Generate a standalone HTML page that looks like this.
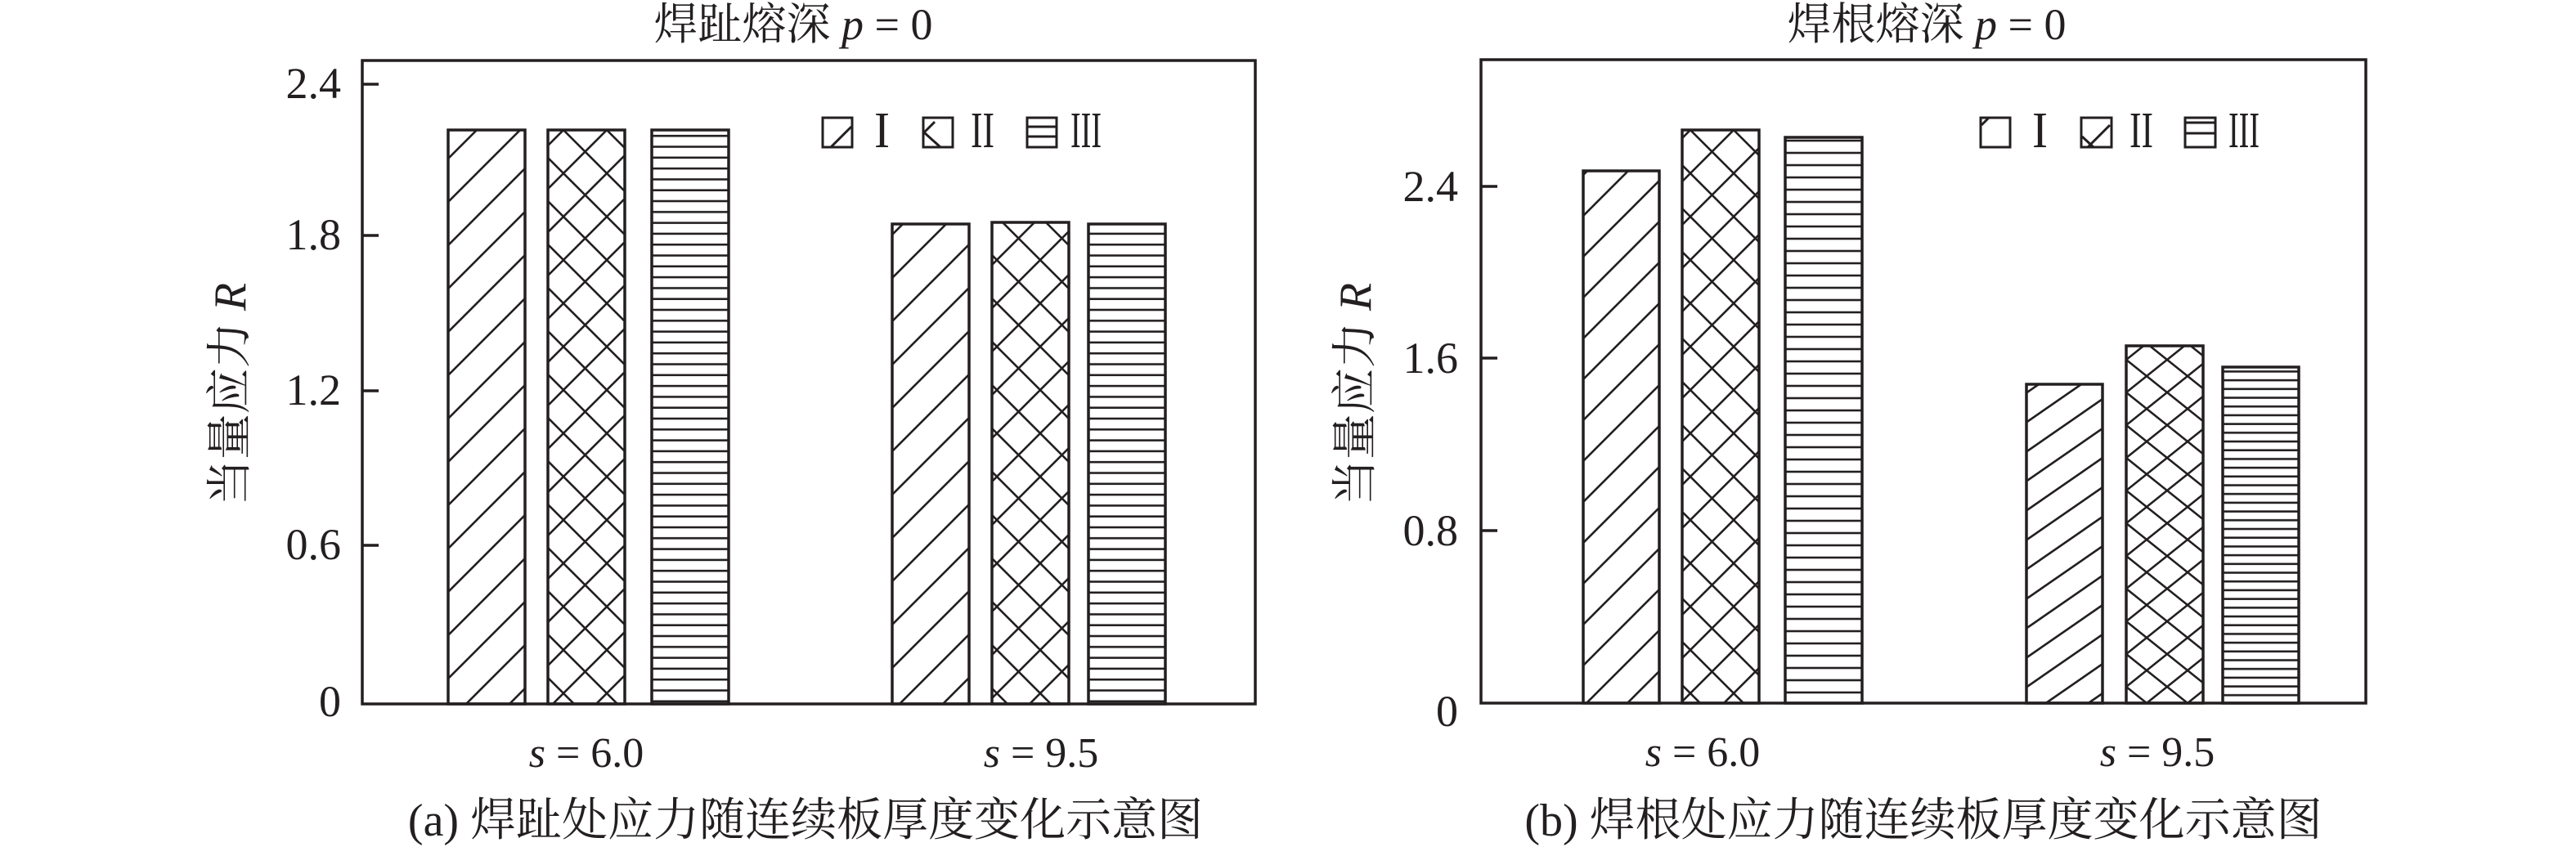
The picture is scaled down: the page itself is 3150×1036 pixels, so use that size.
<!DOCTYPE html>
<html><head><meta charset="utf-8"><style>
html,body{margin:0;padding:0;background:#fff}
svg{display:block}
text{fill:#231f20}
.cj{font-family:"Liberation Serif","Noto Serif CJK SC",serif}
.n{font-family:"Liberation Serif",serif}
</style></head><body>
<svg width="3150" height="1036" viewBox="0 0 3150 1036" xmlns="http://www.w3.org/2000/svg">
<defs>
<pattern id="dA" width="53" height="53" patternUnits="userSpaceOnUse"><path d="M0,53L53,0M-10,10L10,-10M43,63L63,43" stroke="#231f20" stroke-width="2.6"/></pattern>
<pattern id="xA" width="53" height="53" patternUnits="userSpaceOnUse"><path d="M0,53L53,0M-10,10L10,-10M43,63L63,43M0,0L53,53M-10,43L10,63M43,-10L63,10" stroke="#231f20" stroke-width="2.6"/></pattern>
<pattern id="hA" width="10" height="13.3" patternUnits="userSpaceOnUse"><path d="M0,6.6H10" stroke="#231f20" stroke-width="2.6"/></pattern>
<pattern id="dB" width="50" height="50" patternUnits="userSpaceOnUse"><path d="M0,50L50,0M-10,10L10,-10M40,60L60,40" stroke="#231f20" stroke-width="2.6"/></pattern>
<pattern id="xB" width="53" height="53" patternUnits="userSpaceOnUse"><path d="M0,53L53,0M-10,10L10,-10M43,63L63,43M0,0L53,53M-10,43L10,63M43,-10L63,10" stroke="#231f20" stroke-width="2.6"/></pattern>
<pattern id="hB" width="10" height="15" patternUnits="userSpaceOnUse"><path d="M0,7H10" stroke="#231f20" stroke-width="2.6"/></pattern>
<pattern id="dC" width="52" height="36" patternUnits="userSpaceOnUse"><path d="M0,36L52,0M-13,9L13,-9M39,45L65,27" stroke="#231f20" stroke-width="2.6"/></pattern>
<pattern id="xC" width="50" height="40" patternUnits="userSpaceOnUse"><path d="M0,40L50,0M-10,8L10,-8M40,48L60,32M0,0L50,40M-10,32L10,48M40,-8L60,8" stroke="#231f20" stroke-width="2.6"/></pattern>
<pattern id="hC" width="10" height="10.7" patternUnits="userSpaceOnUse"><path d="M0,5H10" stroke="#231f20" stroke-width="2.6"/></pattern>
</defs>

<!-- Panel A -->
<text class="cj" x="970" y="48" font-size="54" text-anchor="middle">焊趾熔深 <tspan font-style="italic">p</tspan> = 0</text>
<g stroke="#231f20" stroke-width="3.5">
<rect x="548" y="159" width="94" height="702" fill="url(#dA)"/>
<rect x="670" y="159" width="94" height="702" fill="url(#xA)"/>
<rect x="797" y="159" width="94" height="702" fill="url(#hA)"/>
<rect x="1091" y="274" width="94" height="587" fill="url(#dA)"/>
<rect x="1213" y="272" width="94" height="589" fill="url(#xA)"/>
<rect x="1331" y="274" width="94" height="587" fill="url(#hA)"/>
<rect x="443" y="74" width="1092" height="787" fill="none"/>
<path d="M443,103h20M443,288h20M443,478h20M443,667h20"/>
</g>
<g class="n" font-size="54" text-anchor="end">
<text x="417" y="120">2.4</text>
<text x="417" y="305">1.8</text>
<text x="417" y="495">1.2</text>
<text x="417" y="684">0.6</text>
<text x="417" y="876">0</text>
</g>
<text class="cj" font-size="56" transform="translate(300,482) rotate(-90)" text-anchor="middle">当量应力 <tspan font-style="italic">R</tspan></text>
<text class="n" x="717" y="938" font-size="52" text-anchor="middle"><tspan font-style="italic">s</tspan> = 6.0</text>
<text class="n" x="1273" y="938" font-size="52" text-anchor="middle"><tspan font-style="italic">s</tspan> = 9.5</text>
<text class="cj" x="985" y="1022" font-size="56" text-anchor="middle">(a) 焊趾处应力随连续板厚度变化示意图</text>
<!-- legend A -->
<g stroke="#231f20" stroke-width="3" fill="none">
<rect x="1006" y="144" width="36" height="36"/><path d="M1016,180L1041,155"/>
<rect x="1129" y="144" width="36" height="36"/><path d="M1130,162L1143,149M1130,162L1150,180"/>
<rect x="1256" y="144" width="36" height="36"/><path d="M1256,155H1292M1256,167H1292"/>
</g>
<g class="n" font-size="62">
<text x="1069" y="180" textLength="19" lengthAdjust="spacingAndGlyphs">I</text>
<text x="1187" y="180" textLength="29" lengthAdjust="spacingAndGlyphs">II</text>
<text x="1309" y="180" textLength="38" lengthAdjust="spacingAndGlyphs">III</text>
</g>

<!-- Panel B -->
<text class="cj" x="2356" y="48" font-size="54" text-anchor="middle">焊根熔深 <tspan font-style="italic">p</tspan> = 0</text>
<g stroke="#231f20" stroke-width="3.5">
<rect x="1936" y="209" width="93" height="651" fill="url(#dB)"/>
<rect x="2057" y="159" width="94" height="701" fill="url(#xB)"/>
<rect x="2183" y="168" width="94" height="692" fill="url(#hB)"/>
<rect x="2478" y="470" width="93" height="390" fill="url(#dC)"/>
<rect x="2600" y="423" width="94" height="437" fill="url(#xC)"/>
<rect x="2718" y="449" width="93" height="411" fill="url(#hC)"/>
<rect x="1811" y="73" width="1082" height="787" fill="none"/>
<path d="M1811,228h20M1811,438h20M1811,649h20"/>
</g>
<g class="n" font-size="54" text-anchor="end">
<text x="1783" y="246">2.4</text>
<text x="1783" y="456">1.6</text>
<text x="1783" y="667">0.8</text>
<text x="1783" y="888">0</text>
</g>
<text class="cj" font-size="56" transform="translate(1676,482) rotate(-90)" text-anchor="middle">当量应力 <tspan font-style="italic">R</tspan></text>
<text class="n" x="2082" y="937" font-size="52" text-anchor="middle"><tspan font-style="italic">s</tspan> = 6.0</text>
<text class="n" x="2638" y="937" font-size="52" text-anchor="middle"><tspan font-style="italic">s</tspan> = 9.5</text>
<text class="cj" x="2352" y="1022" font-size="56" text-anchor="middle">(b) 焊根处应力随连续板厚度变化示意图</text>
<!-- legend B -->
<g stroke="#231f20" stroke-width="3" fill="none">
<rect x="2422" y="144" width="36" height="36"/><path d="M2423,153L2432,144"/>
<rect x="2545" y="144" width="37" height="36"/><path d="M2553,180L2580,153M2546,167L2560,180"/>
<rect x="2672" y="144" width="37" height="36"/><path d="M2672,150H2709M2672,163H2709"/>
</g>
<g class="n" font-size="62">
<text x="2485" y="180" textLength="19" lengthAdjust="spacingAndGlyphs">I</text>
<text x="2604" y="180" textLength="29" lengthAdjust="spacingAndGlyphs">II</text>
<text x="2725" y="180" textLength="38" lengthAdjust="spacingAndGlyphs">III</text>
</g>
</svg>
</body></html>
